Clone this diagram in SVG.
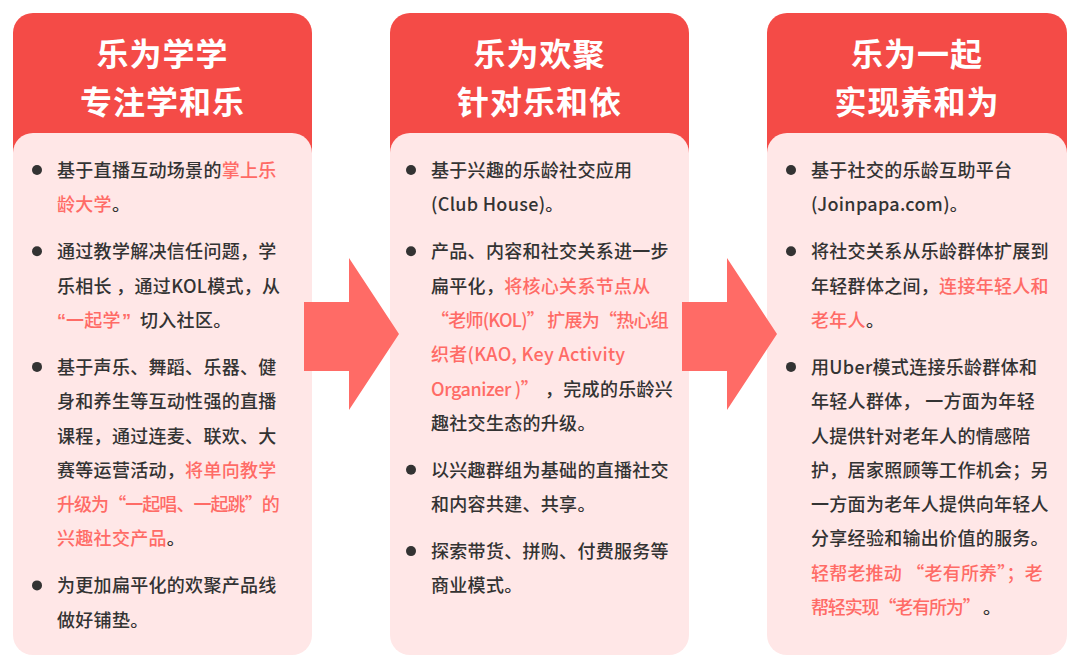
<svg xmlns="http://www.w3.org/2000/svg" width="1080" height="669" viewBox="0 0 1080 669">
<style>
.hdr{fill:#F44B47}
.body{fill:#FFE7E7}
.ht{font-family:"Noto Sans CJK SC","Noto Sans",sans-serif;font-size:32px;font-weight:700;fill:#fff;text-anchor:middle;letter-spacing:1px}
.t{font-family:"Noto Sans CJK SC","Noto Sans",sans-serif;font-size:18px;font-weight:500;fill:#333;letter-spacing:0.3px}
.q{font-family:"Liberation Sans",Arial,sans-serif;font-weight:700}
.r{fill:#FF6B66}
.b{fill:#333}
.arrow{fill:#FF6B66}
</style>
<rect width="1080" height="669" fill="#fff"/>
<g id="col1">
<rect class="hdr" x="13" y="13" width="299" height="180" rx="20"/>
<rect class="body" x="13" y="133" width="299" height="522" rx="20"/>
<text class="ht" x="162.5" y="66">乐为学学</text>
<text class="ht" x="162.5" y="114">专注学和乐</text>
<circle class="b" cx="37" cy="170" r="5"/>
<circle class="b" cx="37" cy="251.3" r="5"/>
<circle class="b" cx="37" cy="366.9" r="5"/>
<circle class="b" cx="37" cy="585.4" r="5"/>
<text class="t" x="57" y="177">基于直播互动场景的<tspan class="r">掌上乐</tspan></text>
<text class="t" x="57" y="211.3"><tspan class="r">龄大学</tspan>。</text>
<text class="t" x="57" y="258.3">通过教学解决信任问题，学</text>
<text class="t" x="57" y="292.6">乐相长 ，通过KOL模式，从</text>
<text class="t r" y="326.9"><tspan class="q" x="57">“</tspan><tspan x="66">一起学</tspan><tspan class="q" x="122">”</tspan></text>
<text class="t" x="140" y="326.9">切入社区。</text>
<text class="t" x="57" y="373.9">基于声乐、舞蹈、乐器、健</text>
<text class="t" x="57" y="408.2">身和养生等互动性强的直播</text>
<text class="t" x="57" y="442.5">课程，通过连麦、联欢、大</text>
<text class="t" x="57" y="476.8">赛等运营活动，<tspan class="r">将单向教学</tspan></text>
<text class="t r" x="57" y="511.1" textLength="223" lengthAdjust="spacing">升级为“一起唱、一起跳”的</text>
<text class="t" x="57" y="545.4"><tspan class="r">兴趣社交产品</tspan>。</text>
<text class="t" x="57" y="592.4">为更加扁平化的欢聚产品线</text>
<text class="t" x="57" y="626.7">做好铺垫。</text>
</g>
<g id="col2">
<rect class="hdr" x="390" y="13" width="299" height="180" rx="20"/>
<rect class="body" x="390" y="133" width="299" height="522" rx="20"/>
<text class="ht" x="539.5" y="66">乐为欢聚</text>
<text class="ht" x="539.5" y="114">针对乐和依</text>
<circle class="b" cx="411" cy="170" r="5"/>
<circle class="b" cx="411" cy="251.3" r="5"/>
<circle class="b" cx="411" cy="469.8" r="5"/>
<circle class="b" cx="411" cy="551.1" r="5"/>
<text class="t" x="431" y="177">基于兴趣的乐龄社交应用</text>
<text class="t" x="431" y="211.3">(Club House)。</text>
<text class="t" x="431" y="258.3">产品、内容和社交关系进一步</text>
<text class="t" x="431" y="292.6">扁平化，<tspan class="r">将核心关系节点从</tspan></text>
<text class="t r" x="431" y="326.9" textLength="238" lengthAdjust="spacing">“老师(KOL)” 扩展为“热心组</text>
<text class="t r" x="431" y="361.2">织者(KAO, Key Activity</text>
<text class="t r" x="431" y="395.5" textLength="108" lengthAdjust="spacing">Organizer )”</text>
<text class="t" x="545" y="395.5">，完成的乐龄兴</text>
<text class="t" x="431" y="429.8">趣社交生态的升级。</text>
<text class="t" x="431" y="476.8">以兴趣群组为基础的直播社交</text>
<text class="t" x="431" y="511.1">和内容共建、共享。</text>
<text class="t" x="431" y="558.1">探索带货、拼购、付费服务等</text>
<text class="t" x="431" y="592.4">商业模式。</text>
</g>
<g id="col3">
<rect class="hdr" x="767" y="13" width="300" height="180" rx="20"/>
<rect class="body" x="767" y="133" width="300" height="522" rx="20"/>
<text class="ht" x="917" y="66">乐为一起</text>
<text class="ht" x="917" y="114">实现养和为</text>
<circle class="b" cx="791" cy="170" r="5"/>
<circle class="b" cx="791" cy="251.3" r="5"/>
<circle class="b" cx="791" cy="366.9" r="5"/>
<text class="t" x="811" y="177">基于社交的乐龄互助平台</text>
<text class="t" x="811" y="211.3">(Joinpapa.com)。</text>
<text class="t" x="811" y="258.3">将社交关系从乐龄群体扩展到</text>
<text class="t" x="811" y="292.6">年轻群体之间，<tspan class="r">连接年轻人和</tspan></text>
<text class="t" x="811" y="326.9"><tspan class="r">老年人</tspan>。</text>
<text class="t" x="811" y="373.9">用Uber模式连接乐龄群体和</text>
<text class="t" x="811" y="408.2">年轻人群体， 一方面为年轻</text>
<text class="t" x="811" y="442.5">人提供针对老年人的情感陪</text>
<text class="t" x="811" y="476.8">护，居家照顾等工作机会；另</text>
<text class="t" x="811" y="511.1">一方面为老年人提供向年轻人</text>
<text class="t" x="811" y="545.4">分享经验和输出价值的服务。</text>
<text class="t r" x="811" y="579.7" textLength="232" lengthAdjust="spacing">轻帮老推动 “老有所养”；老</text>
<text class="t r" x="811" y="614" textLength="170" lengthAdjust="spacing">帮轻实现“老有所为”</text>
<text class="t" x="983" y="614">。</text>
</g>
<g id="connectors">
<polygon class="arrow" points="304,302 349,302 349,258 399,334 349,410 349,371 304,371"/>
<polygon class="arrow" points="682,302 727,302 727,258 777,334 727,410 727,371 682,371"/>
</g>
</svg>
